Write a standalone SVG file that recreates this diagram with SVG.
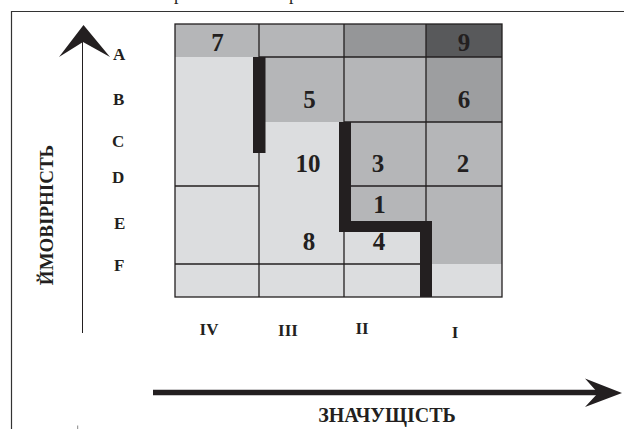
<svg xmlns="http://www.w3.org/2000/svg" width="624" height="429" viewBox="0 0 624 429">
  <style>
    .lt { fill: #dcdddf; }
    .md { fill: #b5b6b8; }
    .dk { fill: #959698; }
    .d6 { fill: #9d9ea0; }
    .dd { fill: #58595b; }
    .grid { stroke: #231f20; stroke-width: 1.3; fill: none; }
    .num { font-family: "Liberation Serif", "Times New Roman", serif; font-weight: bold; font-size: 25px; fill: #231f20; text-anchor: middle; }
    .lbl { font-family: "Liberation Serif", "Times New Roman", serif; font-weight: bold; font-size: 17px; fill: #231f20; }
    .title { font-family: "Liberation Serif", "Times New Roman", serif; font-weight: bold; font-size: 19px; fill: #231f20; text-anchor: middle; }
    .bar { fill: #231f20; }
  </style>

  <rect width="624" height="429" fill="#ffffff"/>

  <!-- caption letters cut by the top edge -->
  <text class="lbl" x="174" y="0" style="font-weight:normal;font-size:18px">р</text>
  <text class="lbl" x="289" y="0" style="font-weight:normal;font-size:18px">р</text>

  <!-- frame -->
  <path d="M11.5 429 V11.5 H624" stroke="#333333" stroke-width="1.2" fill="none"/>

  <!-- risk matrix cells -->
  <g id="cells">
    <g id="cell-A-IV"><rect class="md" x="175" y="24" width="84" height="33"/><text class="num" x="217.5" y="51">7</text></g>
    <g id="cell-A-III"><rect class="md" x="259" y="24" width="85" height="33"/></g>
    <g id="cell-A-II"><rect class="dk" x="344" y="24" width="82" height="33"/></g>
    <g id="cell-A-I"><rect class="dd" x="426" y="24" width="76" height="33"/><text class="num" x="464" y="51">9</text></g>

    <g id="cell-BC-IV"><rect class="lt" x="175" y="57" width="84" height="129"/></g>
    <g id="cell-B-III"><rect class="md" x="259" y="57" width="85" height="65"/><text class="num" x="309.5" y="108">5</text></g>
    <g id="cell-B-II"><rect class="md" x="344" y="57" width="82" height="65"/></g>
    <g id="cell-B-I"><rect class="d6" x="426" y="57" width="76" height="65"/><text class="num" x="464" y="108">6</text></g>

    <g id="cell-CE-III"><rect class="lt" x="259" y="122" width="85" height="142"/><text class="num" x="308" y="172">10</text><text class="num" x="309" y="250">8</text></g>
    <g id="cell-C-II"><rect class="md" x="344" y="122" width="82" height="64"/><text class="num" x="378" y="172">3</text></g>
    <g id="cell-C-I"><rect class="md" x="426" y="122" width="76" height="64"/><text class="num" x="463" y="172">2</text></g>

    <g id="cell-DE-IV"><rect class="lt" x="175" y="186" width="84" height="78"/></g>
    <g id="cell-D-II"><rect class="md" x="344" y="186" width="82" height="35"/><text class="num" x="379.5" y="213">1</text></g>
    <g id="cell-E-II"><rect class="lt" x="344" y="221" width="82" height="43"/><text class="num" x="379" y="250">4</text></g>
    <g id="cell-DE-I"><rect class="md" x="426" y="186" width="76" height="78"/></g>

    <g id="cell-F-IV"><rect class="lt" x="175" y="264" width="84" height="33"/></g>
    <g id="cell-F-III"><rect class="lt" x="259" y="264" width="85" height="33"/></g>
    <g id="cell-F-II"><rect class="lt" x="344" y="264" width="82" height="33"/></g>
    <g id="cell-F-I"><rect class="lt" x="426" y="264" width="76" height="33"/></g>
  </g>

  <!-- grid lines -->
  <g id="grid" class="grid">
    <rect x="175" y="24" width="327" height="273"/>
    <path d="M259 57 H502"/>
    <path d="M344 122 H502"/>
    <path d="M175 186 H259 M344 186 H502"/>
    <path d="M175 264 H426"/>
    <path d="M259 24 V297"/>
    <path d="M344 24 V297"/>
    <path d="M426 24 V297"/>
  </g>

  <!-- acceptability boundaries -->
  <g id="boundaries">
    <rect class="bar" x="253" y="57" width="12.5" height="96"/>
    <polygon class="bar" points="339,122 351,122 351,221 432,221 432,297 420,297 420,232 339,232"/>
  </g>

  <!-- axes -->
  <g id="connectors">
    <line x1="82.5" y1="40" x2="82.5" y2="333" stroke="#231f20" stroke-width="1"/>
    <polygon points="83.5,25 110,57 83,42 59,57" fill="#231f20"/>
    <line x1="153" y1="392.5" x2="600" y2="392.5" stroke="#231f20" stroke-width="5.5"/>
    <polygon points="622,393 585,378.5 598,393 585,407" fill="#231f20"/>
    <line x1="77.7" y1="425.5" x2="77.7" y2="429" stroke="#888888" stroke-width="1"/>
  </g>

  <!-- probability levels -->
  <g id="rows" class="lbl">
    <text x="113" y="60">A</text>
    <text x="113" y="105">B</text>
    <text x="112" y="146.5">C</text>
    <text x="112" y="183">D</text>
    <text x="114" y="229">E</text>
    <text x="114" y="270.5">F</text>
  </g>

  <!-- significance levels -->
  <g id="cols" class="lbl" text-anchor="middle">
    <text x="209" y="335">IV</text>
    <text x="288" y="336">III</text>
    <text x="362" y="333.5">II</text>
    <text x="455" y="337.5">I</text>
  </g>

  <text class="title" transform="translate(53,215) rotate(-90)">ЙМОВІРНІСТЬ</text>
  <text class="title" x="387" y="421.5" style="font-size:20px">ЗНАЧУЩІСТЬ</text>
</svg>
